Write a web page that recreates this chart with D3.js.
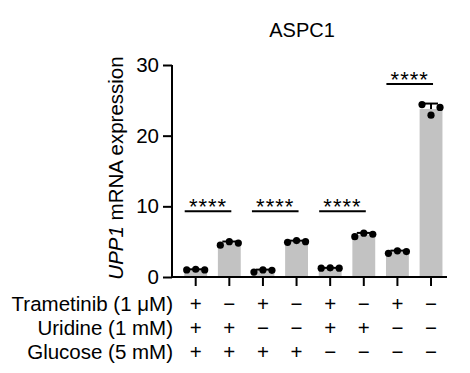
<!DOCTYPE html>
<html>
<head>
<meta charset="utf-8">
<script src="https://cdn.jsdelivr.net/npm/d3@7"></script>
<style>
  body { margin: 0; background: #fff; }
  svg { display: block; font-family: "Liberation Sans", Arial, Helvetica, sans-serif; }
</style>
</head>
<body>
<svg id="chart" width="470" height="373"></svg>
<script>
// groups, left to right
const groups = ["g1", "g2", "g3", "g4", "g5", "g6", "g7", "g8"];

// replicate values (UPP1 mRNA expression)
const replicates = [
    [1.0, 1.1, 1.0],
    [4.5, 5.0, 4.8],
    [0.7, 1.0, 0.95],
    [4.9, 5.15, 5.0],
    [1.25, 1.3, 1.25],
    [5.7, 6.2, 6.05],
    [3.35, 3.7, 3.6],
    [24.4, 22.9, 24.0]
];

// condition table under the axis
const conditionLabels = ["Trametinib (1 μM)", "Uridine (1 mM)", "Glucose (5 mM)"];
const trametinib = ["+", "−", "+", "−", "+", "−", "+", "−"];
const uridine    = ["+", "+", "−", "−", "+", "+", "−", "−"];
const glucose    = ["+", "+", "+", "+", "−", "−", "−", "−"];

// significance brackets: [left group, right group, bracket height]
const comparisons = [
    [0, 1, 9.3],
    [2, 3, 9.3],
    [4, 5, 9.3],
    [6, 7, 27.3]
];
const sigLabel = "****";

const yTicks = [0, 10, 20, 30];

const svg = d3.select("#chart");
const font = 20.5;

const x = d3.scaleBand()
    .domain(groups)
    .range([172, 447])
    .paddingInner(0.32)
    .paddingOuter(0.25)
    .align(0.73);

const y = d3.scaleLinear().domain([0, 30]).range([277, 65]);

const mean = a => d3.mean(a);
const sd = a => d3.deviation(a);

// bars
svg.append("g").selectAll("rect")
    .data(replicates)
    .join("rect")
    .attr("x", (d, i) => x(groups[i]))
    .attr("width", x.bandwidth())
    .attr("y", d => y(mean(d)))
    .attr("height", d => y(0) - y(mean(d)))
    .attr("fill", "#c2c2c2");

// error bars (upper only)
const cx = i => x(groups[i]) + x.bandwidth() / 2;
const err = svg.append("g").attr("stroke", "#000").attr("stroke-width", 2);
replicates.forEach((d, i) => {
    const m = mean(d), top = m + sd(d);
    err.append("line")
        .attr("x1", cx(i)).attr("x2", cx(i))
        .attr("y1", y(m)).attr("y2", y(top));
    err.append("line")
        .attr("x1", cx(i) - 7).attr("x2", cx(i) + 7)
        .attr("y1", y(top)).attr("y2", y(top));
});

// replicate dots
const offsets = [-9, 0, 9];
svg.append("g").selectAll("g")
    .data(replicates)
    .join("g")
    .each(function (d, i) {
        d3.select(this).selectAll("circle")
            .data(d)
            .join("circle")
            .attr("cx", (v, j) => cx(i) + offsets[j])
            .attr("cy", v => y(v))
            .attr("r", 3.6)
            .attr("fill", "#000");
    });

// axes
const yAxis = svg.append("g")
    .attr("transform", "translate(172,0)")
    .call(d3.axisLeft(y).tickValues(yTicks).tickSize(9).tickPadding(4).tickSizeOuter(0));
yAxis.select(".domain").attr("stroke-width", 2).attr("d", `M0,${y(0) + 1}V${y(30)}`);
yAxis.selectAll(".tick line").attr("stroke-width", 2);
yAxis.selectAll("text").attr("font-size", font).attr("font-family", null).attr("fill", "#000");

const xAxis = svg.append("g")
    .attr("transform", `translate(0,${y(0)})`)
    .call(d3.axisBottom(x).tickSize(9).tickSizeOuter(0).tickFormat(""));
xAxis.select(".domain").attr("stroke-width", 2).attr("d", "M171,0H447");
xAxis.selectAll(".tick line").attr("stroke-width", 2);

// y label
const yl = svg.append("text")
    .attr("transform", "translate(123,168) rotate(-90)")
    .attr("text-anchor", "middle")
    .attr("font-size", font);
yl.append("tspan").attr("font-style", "italic").text("UPP1");
yl.append("tspan").text(" mRNA expression");

// title
svg.append("text")
    .attr("x", 302).attr("y", 37)
    .attr("text-anchor", "middle")
    .attr("font-size", 20)
    .text("ASPC1");

// significance brackets
const sig = svg.append("g");
comparisons.forEach(([a, b, h]) => {
    const x1 = cx(a) - 11, x2 = cx(b) + 2;
    sig.append("line")
        .attr("x1", x1).attr("x2", x2)
        .attr("y1", y(h)).attr("y2", y(h))
        .attr("stroke", "#000").attr("stroke-width", 2);
    sig.append("text")
        .attr("x", (x1 + x2) / 2).attr("y", y(h) + 2.5)
        .attr("text-anchor", "middle")
        .attr("font-size", 22)
        .attr("letter-spacing", 1)
        .text(sigLabel);
});

// condition table
const rows = [trametinib, uridine, glucose];
const rowY = [311, 335, 359];
rows.forEach((row, r) => {
    svg.append("text")
        .attr("x", 173).attr("y", rowY[r])
        .attr("text-anchor", "end")
        .attr("font-size", font)
        .text(conditionLabels[r]);
    svg.append("g").selectAll("text")
        .data(row)
        .join("text")
        .attr("x", (d, i) => cx(i))
        .attr("y", rowY[r])
        .attr("text-anchor", "middle")
        .attr("font-size", font)
        .text(d => d);
});
</script>
</body>
</html>
